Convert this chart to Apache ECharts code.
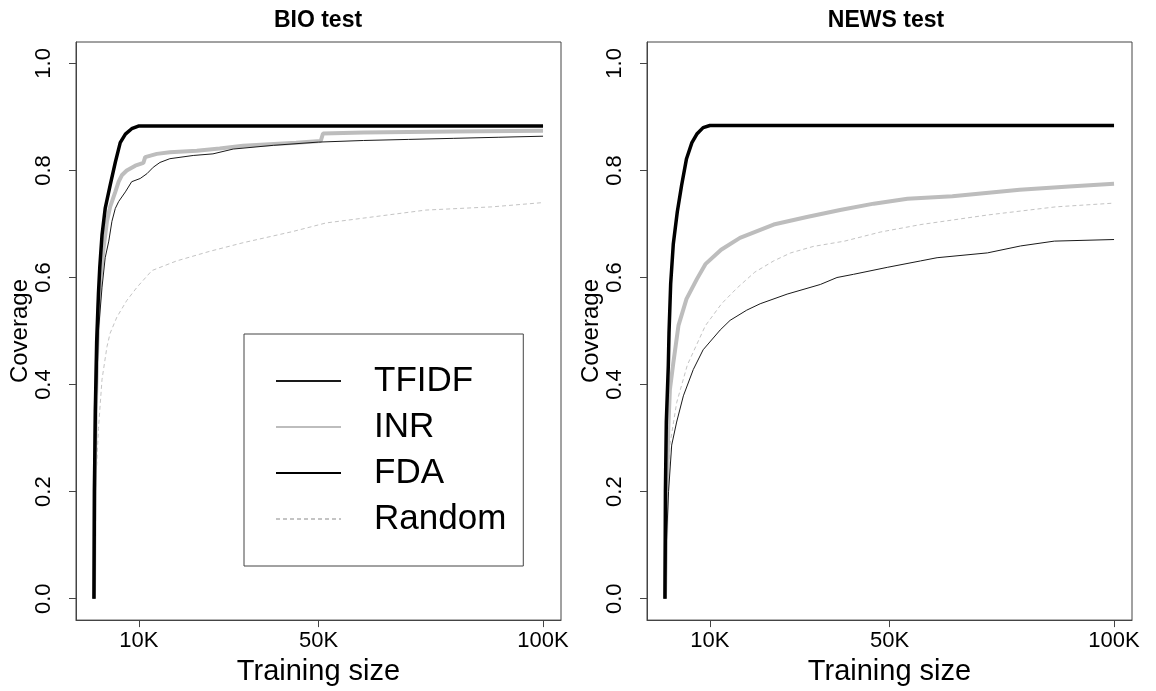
<!DOCTYPE html>
<html><head><meta charset="utf-8">
<script src="https://cdn.jsdelivr.net/npm/echarts@6/dist/echarts.min.js"></script>
<style>html,body{margin:0;padding:0;background:#fff}#c{width:1156px;height:691px}</style>
</head><body><div id="c"></div>
<script>
// ---- data (x in thousands of training examples, y = coverage) ----
const panelTitles = ['BIO test', 'NEWS test'];
const seriesNames = ['TFIDF', 'INR', 'FDA', 'Random'];
const xTicks = [10, 50, 100];
const xTickLabels = ['10K', '50K', '100K'];
const yTicks = [0, 0.2, 0.4, 0.6, 0.8, 1.0];
const xLabel = 'Training size';
const yLabel = 'Coverage';

const bioTFIDF = [[0,0],[0.2,0.2],[0.5,0.36],[1.0,0.5],[1.8,0.582],[2.5,0.637],[3.3,0.668],[4.0,0.705],[4.75,0.729],[5.5,0.742],[7.0,0.76],[8.4,0.779],[10.3,0.785],[11.8,0.794],[13.2,0.806],[14.7,0.815],[16.9,0.822],[22.1,0.828],[26.5,0.831],[31,0.84],[40,0.847],[50,0.853],[60,0.856],[70,0.858],[80,0.86],[90,0.862],[100,0.864]];
const bioINR = [[0,0],[0.15,0.2],[0.4,0.35],[0.7,0.46],[1.0,0.54],[1.4,0.594],[2.15,0.656],[2.9,0.705],[3.6,0.732],[4.75,0.76],[5.5,0.779],[6.2,0.791],[7.3,0.8],[9.2,0.809],[11.0,0.814],[11.4,0.825],[14,0.831],[16.9,0.834],[22.9,0.837],[28,0.841],[33.2,0.846],[39.1,0.849],[45,0.852],[50.5,0.855],[51,0.869],[60,0.871],[80,0.873],[100,0.874]];
const bioFDA = [[0,0],[0.1,0.2],[0.3,0.35],[0.6,0.48],[1.0,0.57],[1.3,0.62],[1.8,0.68],[2.5,0.729],[3.6,0.772],[4.75,0.815],[5.85,0.852],[7,0.868],[8.4,0.878],[9.9,0.883],[100,0.883]];
const bioRandom = [[0,0],[0.3,0.194],[1.0,0.318],[1.8,0.41],[2.9,0.471],[3.6,0.496],[5.1,0.526],[7.3,0.557],[9.6,0.582],[12.9,0.613],[18.4,0.631],[25.8,0.649],[33.2,0.665],[44.3,0.686],[51.7,0.702],[62.8,0.714],[73.9,0.726],[88.6,0.732],[100,0.74]];

const newsTFIDF = [[0,0],[0.3,0.1],[0.8,0.2],[1.5,0.287],[2.6,0.33],[4.1,0.379],[6.3,0.428],[8.5,0.465],[12.3,0.502],[14.5,0.52],[18.2,0.539],[21.2,0.551],[27.2,0.569],[34.6,0.587],[38.3,0.6],[42,0.606],[49.5,0.619],[56.9,0.631],[60.6,0.637],[71.8,0.646],[79.2,0.659],[86.7,0.668],[100,0.671]];
const newsINR = [[0,0],[0.3,0.15],[0.74,0.318],[1.1,0.391],[1.85,0.44],[3.0,0.51],[4.8,0.56],[7.1,0.597],[9,0.625],[12.5,0.652],[16.7,0.674],[24.2,0.699],[31.6,0.713],[39,0.726],[46.5,0.738],[54,0.747],[64,0.752],[79,0.764],[90,0.77],[100,0.775]];
const newsFDA = [[0,0],[0.1,0.2],[0.3,0.33],[0.74,0.434],[0.9,0.496],[1.27,0.588],[1.85,0.662],[2.75,0.723],[3.7,0.772],[4.8,0.822],[6.0,0.852],[7.1,0.868],[8.5,0.88],[10,0.884],[100,0.884]];
const newsRandom = [[0,0],[0.4,0.15],[1.1,0.287],[2.6,0.366],[5,0.437],[9,0.51],[12.6,0.551],[16,0.58],[20,0.61],[24.2,0.631],[28,0.646],[33,0.658],[40,0.668],[48,0.685],[57,0.699],[72,0.717],[87,0.732],[100,0.739]];

const panelData = [
  {TFIDF: bioTFIDF, INR: bioINR, FDA: bioFDA, Random: bioRandom},
  {TFIDF: newsTFIDF, INR: newsINR, FDA: newsFDA, Random: newsRandom}
];

// ---- styling ----
const FONT = '"Liberation Sans", Arial, Helvetica, sans-serif';
const styles = {
  TFIDF: {color: '#1a1a1a', width: 1, type: 'solid'},
  INR: {color: '#bdbdbd', width: 4, type: 'solid'},
  FDA: {color: '#000000', width: 3.5, type: 'solid'},
  Random: {color: '#c4c4c4', width: 1, type: [4, 3]}
};
const drawOrder = ['INR', 'Random', 'TFIDF', 'FDA'];
const grids = [
  {left: 76, top: 42, width: 485, height: 585},
  {left: 647, top: 42, width: 485, height: 585}
];
const titleX = [318, 886];

const xAxes = grids.map((g, i) => ({
  type: 'value', gridIndex: i, min: -4, max: 104,
  splitLine: {show: false},
  axisLine: {show: true, onZero: false, lineStyle: {color: '#444', width: 1}},
  axisTick: {show: true, inside: false, customValues: xTicks, length: 7, lineStyle: {color: '#444'}},
  axisLabel: {customValues: xTicks, margin: 10, fontSize: 22, color: '#000', fontFamily: FONT,
    formatter: v => xTickLabels[xTicks.indexOf(v)] || ''},
  name: xLabel, nameLocation: 'middle', nameGap: 28,
  nameTextStyle: {fontSize: 29, color: '#000', fontFamily: FONT}
}));
const yAxes = grids.map((g, i) => ({
  type: 'value', gridIndex: i, min: -0.04, max: 1.04,
  splitLine: {show: false},
  axisLine: {show: true, onZero: false, lineStyle: {color: '#444', width: 1}},
  axisTick: {show: true, inside: false, customValues: yTicks, length: 7, lineStyle: {color: '#444'}},
  axisLabel: {customValues: yTicks, rotate: 90, margin: 21, fontSize: 22, color: '#000', fontFamily: FONT,
    formatter: v => v.toFixed(1)},
  name: yLabel, nameLocation: 'middle', nameRotate: 90, nameGap: 42,
  nameTextStyle: {fontSize: 24, color: '#000', fontFamily: FONT}
}));

const series = [];
panelData.forEach((pd, i) => {
  drawOrder.forEach(name => {
    const s = styles[name];
    series.push({
      name, type: 'line', xAxisIndex: i, yAxisIndex: i,
      data: pd[name], symbol: 'none', showSymbol: false, smooth: false,
      lineStyle: {color: s.color, width: s.width, type: s.type},
      itemStyle: {color: s.color},
      emphasis: {disabled: true}
    });
  });
});

const chart = echarts.init(document.getElementById('c'), null, {renderer: 'canvas'});
chart.setOption({
  animation: false,
  backgroundColor: '#fff',
  grid: grids.map(g => Object.assign({show: true, borderColor: '#444', borderWidth: 1, backgroundColor: 'transparent'}, g)),
  xAxis: xAxes,
  yAxis: yAxes,
  legend: {
    data: seriesNames, orient: 'vertical', left: 244, top: 334,
    padding: [27, 17, 27, 31], itemGap: 6, itemWidth: 65, itemHeight: 14,
    borderColor: '#444', borderWidth: 1, backgroundColor: '#fff',
    itemStyle: {opacity: 0},
    textStyle: {fontSize: 35, lineHeight: 40, color: '#000', fontFamily: FONT, padding: [0, 0, 0, 28]},
    selectedMode: false
  },
  graphic: panelTitles.map((t, i) => ({
    type: 'text', x: titleX[i], y: 21,
    style: {text: t, align: 'center', verticalAlign: 'middle', font: 'bold 23px ' + FONT, fill: '#000'}
  })),
  series
});
</script>
</body></html>
